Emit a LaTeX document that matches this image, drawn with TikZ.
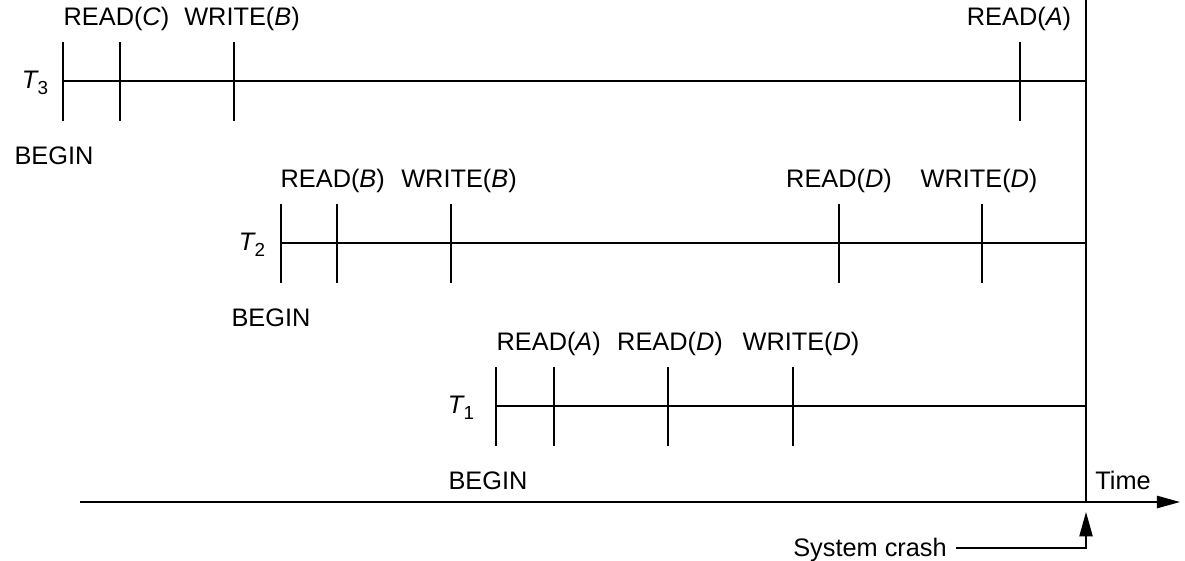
\documentclass[tikz,border=0pt]{standalone}
\usepackage{fontspec}
\setmainfont{Liberation Sans}
\usepackage{tikz}
\usetikzlibrary{positioning, arrows, arrows.meta}

\tikzset{
  lbl/.style={inner sep=0pt, anchor=base, font=\fontsize{11.4}{13}\selectfont},
  tname/.style={inner sep=0pt, anchor=base, font=\fontsize{11.4}{13}\selectfont},
}
\newcommand{\trans}[1]{\textit{T}\kern-0.5pt\raisebox{-0.5ex}{\fontsize{8.5}{9}\selectfont #1}}

\begin{document}
\begin{tikzpicture}[x=0.45pt, y=-0.45pt, line width=0.6pt]
\useasboundingbox (0,0) rectangle (1185,560);

% transaction T3
\draw (63,81) -- (1086,81);
\foreach \t in {63,120,234,1020}
  \draw (\t,42) -- (\t,121);
\node[tname] (t3) at (35,88) {\trans{3}};
\node[lbl, anchor=base west] (rc3) at (63,25) {READ(\textit{C})};
\node[lbl] (wb3) at (242,25) {WRITE(\textit{B})};
\node[lbl] (ra3) at (1019,25) {READ(\textit{A})};
\node[lbl] (b3) at (54,164) {BEGIN};

% transaction T2
\draw (281,243) -- (1086,243);
\foreach \t in {281,337,451,839,982}
  \draw (\t,204) -- (\t,283);
\node[tname] (t2) at (252,250) {\trans{2}};
\node[lbl, anchor=base west] (rb2) at (280,187) {READ(\textit{B})};
\node[lbl] (wb2) at (459,187) {WRITE(\textit{B})};
\node[lbl] (rd2) at (839,187) {READ(\textit{D})};
\node[lbl] (wd2) at (979,187) {WRITE(\textit{D})};
\node[lbl] (b2) at (271,326) {BEGIN};

% transaction T1
\draw (496,406) -- (1086,406);
\foreach \t in {496,554,668,793}
  \draw (\t,367) -- (\t,446);
\node[tname] (t1) at (461,413) {\trans{1}};
\node[lbl, anchor=base west] (ra1) at (496,350) {READ(\textit{A})};
\node[lbl] (rd1) at (670,350) {READ(\textit{D})};
\node[lbl] (wd1) at (801,350) {WRITE(\textit{D})};
\node[lbl] (b1) at (488,489) {BEGIN};

% crash line and time axis
\coordinate (top) at (1086,0);
\coordinate (crash) at (1086,502);
\coordinate (t0) at (80,502);
\coordinate (tend) at (1180,502);
\draw (top) -- (crash);
\draw[-{Triangle[length=10.4pt, width=5.6pt]}] (t0) -- (tend);
\node[lbl] (time) at (1123,489) {Time};

% system crash pointer
\node[lbl] (sc) at (870,556) {System crash};
\coordinate (bend) at (1086,548);
\draw[-{Triangle[length=11pt, width=6pt]}] (956,548) -- (bend) -- (1086,512);
\end{tikzpicture}
\end{document}
